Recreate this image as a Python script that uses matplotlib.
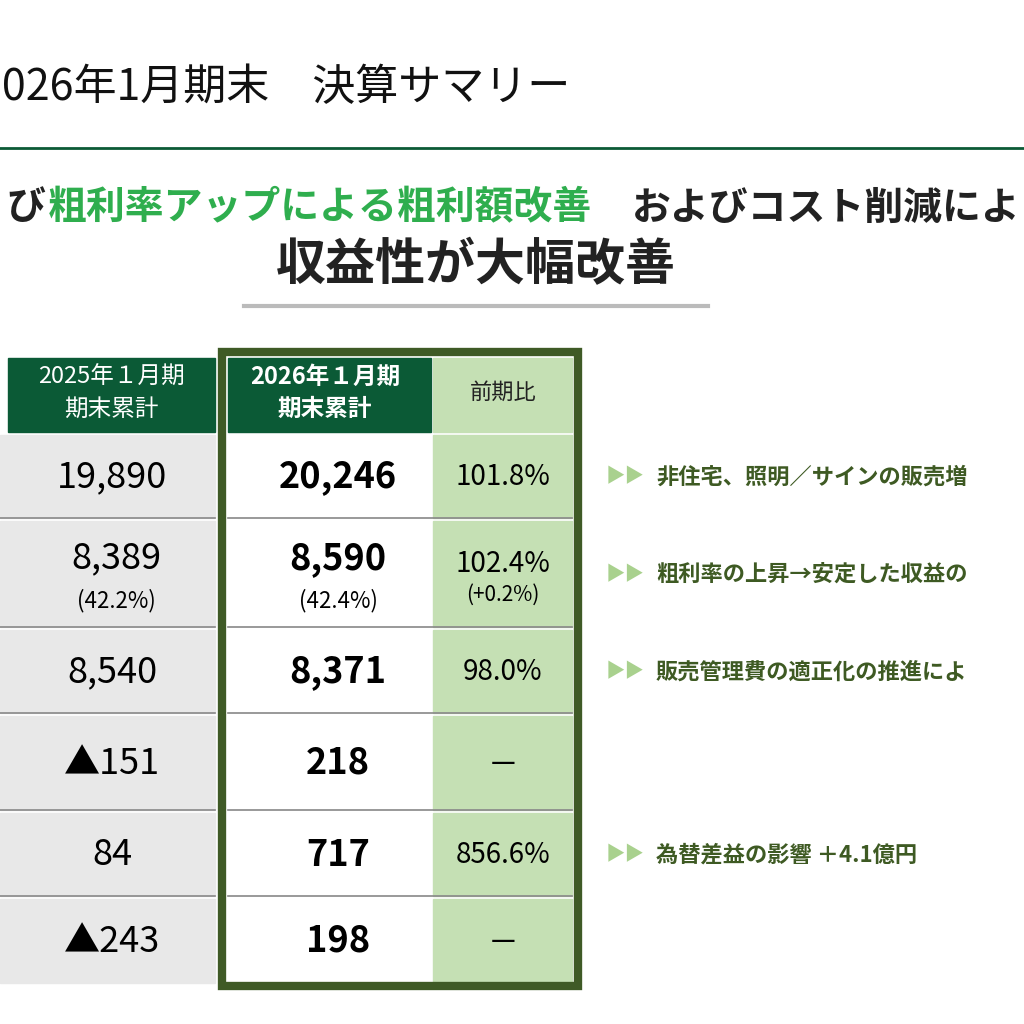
import matplotlib
matplotlib.use("Agg")
import matplotlib.pyplot as plt
from matplotlib.patches import Rectangle

plt.rcParams['font.family'] = ['Noto Sans CJK JP', 'DejaVu Sans']

# --- data
prev_vals = ["19,890", "8,389", "8,540", "▲151", "84", "▲243"]
prev_sub = ["", "(42.2%)", "", "", "", ""]
cur_vals = ["20,246", "8,590", "8,371", "218", "717", "198"]
cur_sub = ["", "(42.4%)", "", "", "", ""]
ratio_vals = ["101.8%", "102.4%", "98.0%", "—", "856.6%", "—"]
ratio_sub = ["", "(+0.2%)", "", "", "", ""]
notes = ["非住宅、照明／サインの販売増", "粗利率の上昇→安定した収益の", "販売管理費の適正化の推進によ",
         "", "為替差益の影響 ＋4.1億円", ""]
row_edges = [432, 518, 627, 713, 810, 896, 983]

DARK = "#0b5a36"
BORDER = "#3f5a26"
LGREEN = "#c5e0b4"
GRAY = "#e8e8e8"
TXT_GREEN = "#3e5a23"

fig = plt.figure(figsize=(10.24, 10.24), dpi=100)
ax = fig.add_axes([0, 0, 1, 1])
ax.set_xlim(0, 1024)
ax.set_ylim(1024, 0)
ax.axis("off")

ax.text(-22, 88, "2026年1月期末　決算サマリー", fontsize=31, va="center", ha="left", color="#111")
ax.plot([0, 1024], [148, 148], color=DARK, lw=2)

ax.text(6, 208, "び", fontsize=28, fontweight="bold", va="center", color="#222")
ax.text(48, 208, "粗利率アップによる粗利額改善", fontsize=28, fontweight="bold", va="center", color="#2fae4e")
ax.text(632, 208, "およびコスト削減によ", fontsize=28, fontweight="bold", va="center", color="#222")
ax.text(476, 266, "収益性が大幅改善", fontsize=36, fontweight="bold", va="center", ha="center", color="#222")
ax.plot([244, 708], [306, 306], color="#bbbbbb", lw=3)

# headers
ax.add_patch(Rectangle((8, 358), 207, 74, color=DARK))
ax.text(111, 377, "2025年１月期", fontsize=17, color="white", ha="center", va="center")
ax.text(111, 409, "期末累計", fontsize=17, color="white", ha="center", va="center")
ax.add_patch(Rectangle((228, 358), 203, 74, color=DARK))
ax.text(325, 377, "2026年１月期", fontsize=17, color="white", ha="center", va="center", fontweight="bold")
ax.text(325, 409, "期末累計", fontsize=17, color="white", ha="center", va="center", fontweight="bold")
ax.add_patch(Rectangle((433, 358), 139, 74, color=LGREEN))
ax.text(503, 392, "前期比", fontsize=16, color="#222", ha="center", va="center")

# body
for i in range(len(prev_vals)):
    top, bot = row_edges[i], row_edges[i + 1]
    ax.add_patch(Rectangle((0, top + 3), 215, bot - top - 3, color=GRAY))
    ax.add_patch(Rectangle((433, top + 3), 139, bot - top - 3, color=LGREEN))
    mid = (top + bot) / 2
    if prev_sub[i]:
        ax.text(116, mid - 14, prev_vals[i], fontsize=26, ha="center", va="center")
        ax.text(116, mid + 28, prev_sub[i], fontsize=16, ha="center", va="center")
        ax.text(338, mid - 14, cur_vals[i], fontsize=26, ha="center", va="center", fontweight="bold")
        ax.text(338, mid + 28, cur_sub[i], fontsize=16, ha="center", va="center")
        ax.text(503, mid - 8, ratio_vals[i], fontsize=20, ha="center", va="center")
        ax.text(503, mid + 22, ratio_sub[i], fontsize=15, ha="center", va="center")
    else:
        ax.text(112, mid + 2, prev_vals[i], fontsize=26, ha="center", va="center")
        ax.text(338, mid + 2, cur_vals[i], fontsize=26, ha="center", va="center", fontweight="bold")
        ax.text(503, mid + 2, ratio_vals[i], fontsize=20, ha="center", va="center")
    if notes[i]:
        ax.text(606, mid + 2, "▶▶", fontsize=14, color="#a9d18e", va="center")
        ax.text(656, mid + 2, notes[i], fontsize=16, color=TXT_GREEN, va="center", fontweight="bold")
for y in row_edges[1:-1]:
    ax.plot([0, 215], [y, y], color="#888", lw=1.2)
    ax.plot([228, 572], [y, y], color="#888", lw=1.2)

ax.add_patch(Rectangle((222, 352), 356, 634, fill=False, edgecolor=BORDER, lw=6))

fig.savefig("out.png", dpi=100)
